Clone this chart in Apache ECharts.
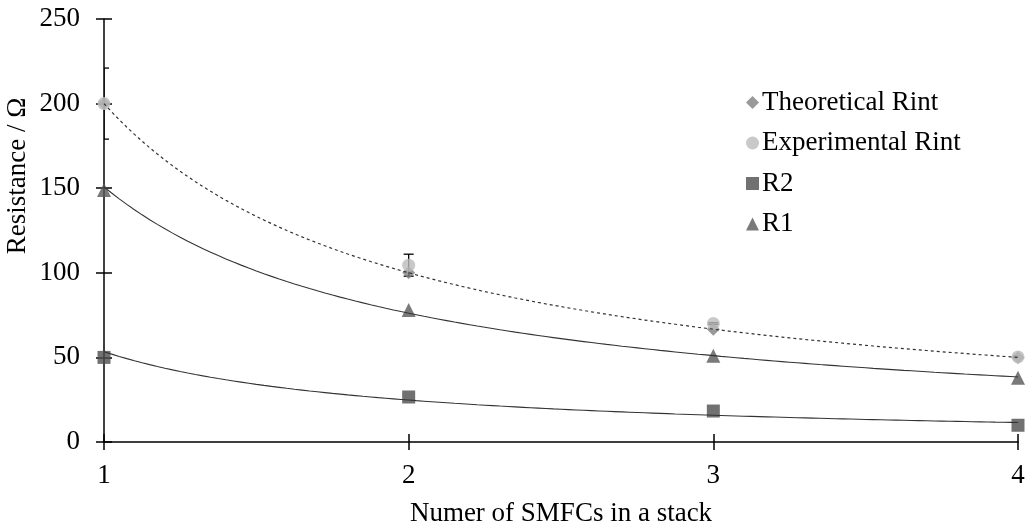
<!DOCTYPE html>
<html>
<head>
<meta charset="utf-8">
<script src="https://cdn.jsdelivr.net/npm/echarts@6/dist/echarts.min.js"></script>
<style>
  html, body { margin: 0; padding: 0; background: #fff; }
  #chart { width: 1027px; height: 527px; }
</style>
</head>
<body>
<div id="chart"></div>
<script>
// Number of SMFCs in a stack
const stackSizes = [1, 2, 3, 4];
// Resistances in ohm
const theoreticalRint = [200, 100, 66.7, 50];
const experimentalRint = [200, 104.5, 70, 50.3];
const experimentalErr = [21, 6.5, 0.5, 0.5];
const r2Values = [50, 26.6, 18.3, 9.9];
const r1Values = [149, 78, 51, 38];

const FONT = 'Liberation Serif';
const FONT_SIZE = 27;
const AXIS_COLOR = '#000';

// Power-law trendline (y = a * x^b), least squares in log-log space
function powerFit(xs, ys) {
  const lx = xs.map(Math.log), ly = ys.map(Math.log);
  const n = xs.length;
  const mx = lx.reduce((s, v) => s + v, 0) / n;
  const my = ly.reduce((s, v) => s + v, 0) / n;
  let sxy = 0, sxx = 0;
  for (let i = 0; i < n; i++) { sxy += (lx[i] - mx) * (ly[i] - my); sxx += (lx[i] - mx) ** 2; }
  const b = sxy / sxx;
  const a = Math.exp(my - b * mx);
  return x => a * Math.pow(x, b);
}
function trendPoints(xs, ys) {
  const f = powerFit(xs, ys);
  const lo = xs[0], hi = xs[xs.length - 1], pts = [];
  for (let i = 0; i <= 120; i++) { const x = lo + (hi - lo) * i / 120; pts.push([x, f(x)]); }
  return pts;
}
const zip = (xs, ys) => xs.map((x, i) => [x, ys[i]]);

const gridBox = { left: 104, right: 9, top: 19, bottom: 85, containLabel: false, outerBoundsMode: 'none' };

const chart = echarts.init(document.getElementById('chart'), null, { renderer: 'canvas' });

chart.setOption({
  backgroundColor: '#fff',
  animation: false,
  textStyle: { fontFamily: FONT, color: '#000' },
  grid: [Object.assign({}, gridBox), Object.assign({}, gridBox)],
  xAxis: [{
    type: 'value', gridIndex: 0, min: 1, max: 4, interval: 1,
    name: 'Numer of SMFCs in a stack', nameLocation: 'middle', nameGap: 58,
    nameTextStyle: { fontFamily: FONT, fontSize: FONT_SIZE, color: '#000' },
    axisLine: { show: true, onZero: false, lineStyle: { color: AXIS_COLOR, width: 1.5 } },
    axisTick: { show: true, inside: false, length: 8, lineStyle: { color: AXIS_COLOR, width: 1.5 } },
    axisLabel: { fontFamily: FONT, fontSize: FONT_SIZE, color: '#000', margin: 20 },
    splitLine: { show: false }
  }, {
    // inner half of the crossing tick marks
    type: 'value', gridIndex: 1, min: 1, max: 4, interval: 1,
    axisLine: { show: false },
    axisTick: { show: true, inside: true, length: 8, lineStyle: { color: AXIS_COLOR, width: 1.5 } },
    axisLabel: { show: false }, splitLine: { show: false }
  }],
  yAxis: [{
    type: 'value', gridIndex: 0, min: 0, max: 250, interval: 50,
    axisLine: { show: true, onZero: false, lineStyle: { color: AXIS_COLOR, width: 1.5 } },
    axisTick: { show: true, inside: false, length: 8, lineStyle: { color: AXIS_COLOR, width: 1.5 } },
    axisLabel: { fontFamily: FONT, fontSize: FONT_SIZE, color: '#000', margin: 24 },
    splitLine: { show: false }
  }, {
    type: 'value', gridIndex: 1, min: 0, max: 250, interval: 50,
    axisLine: { show: false },
    axisTick: { show: true, inside: true, length: 8, lineStyle: { color: AXIS_COLOR, width: 1.5 } },
    axisLabel: { show: false }, splitLine: { show: false }
  }],
  legend: {
    orient: 'vertical', left: 741, top: 84, itemGap: 13.5,
    itemWidth: 13, itemHeight: 13,
    textStyle: { fontFamily: FONT, fontSize: FONT_SIZE, color: '#000', lineHeight: 27, padding: [0, 0, 0, -2] },
    data: [
      { name: 'Theoretical Rint', icon: 'diamond' },
      { name: 'Experimental Rint', icon: 'circle' },
      { name: 'R2', icon: 'rect' },
      { name: 'R1', icon: 'triangle' }
    ]
  },
  graphic: [{
    type: 'text', x: 18, y: 176, rotation: Math.PI / 2,
    style: {
      text: 'Resistance / Ω', font: FONT_SIZE + 'px "Liberation Serif"', fill: '#000',
      align: 'center', verticalAlign: 'middle'
    }
  }],
  series: [
    {
      name: 'Experimental error', type: 'custom', z: 1, clip: true,
      data: stackSizes.map((x, i) => [x, experimentalRint[i] - experimentalErr[i], experimentalRint[i] + experimentalErr[i]]),
      encode: { x: 0, y: [1, 2] },
      renderItem: (params, api) => {
        const lo = api.coord([api.value(0), api.value(1)]);
        const hi = api.coord([api.value(0), api.value(2)]);
        const hw = 5;
        const st = { stroke: '#000', lineWidth: 1.3 };
        return {
          type: 'group', children: [
            { type: 'line', shape: { x1: lo[0], y1: lo[1], x2: hi[0], y2: hi[1] }, style: st },
            { type: 'line', shape: { x1: hi[0] - hw, y1: hi[1], x2: hi[0] + hw, y2: hi[1] }, style: st },
            { type: 'line', shape: { x1: lo[0] - hw, y1: lo[1], x2: lo[0] + hw, y2: lo[1] }, style: st }
          ]
        };
      }
    },
    {
      name: 'Theoretical Rint', type: 'scatter', z: 2, clip: false,
      symbol: 'diamond', symbolSize: 13,
      itemStyle: { color: '#7f7f7f' },
      data: zip(stackSizes, theoreticalRint)
    },
    {
      name: 'Experimental Rint', type: 'scatter', z: 3, clip: false,
      symbol: 'circle', symbolSize: 13,
      itemStyle: { color: '#bcbcbc' },
      data: zip(stackSizes, experimentalRint)
    },
    {
      name: 'R2', type: 'scatter', z: 2, clip: false,
      symbol: 'rect', symbolSize: 13,
      itemStyle: { color: '#4d4d4d' },
      data: zip(stackSizes, r2Values)
    },
    {
      name: 'R1', type: 'scatter', z: 2, clip: false,
      symbol: 'triangle', symbolSize: 14,
      itemStyle: { color: '#595959' },
      data: zip(stackSizes, r1Values)
    },
    {
      name: 'Rint trend', type: 'line', z: 6, showSymbol: false, symbol: 'none', smooth: false,
      lineStyle: { color: '#333', width: 1.2, type: [3, 3] },
      data: trendPoints(stackSizes, theoreticalRint)
    },
    {
      name: 'R1 trend', type: 'line', z: 6, showSymbol: false, symbol: 'none',
      lineStyle: { color: '#333', width: 1.1 },
      data: trendPoints(stackSizes, r1Values)
    },
    {
      name: 'R2 trend', type: 'line', z: 6, showSymbol: false, symbol: 'none',
      lineStyle: { color: '#333', width: 1.1 },
      data: trendPoints(stackSizes, r2Values)
    }
  ]
});
</script>
</body>
</html>
